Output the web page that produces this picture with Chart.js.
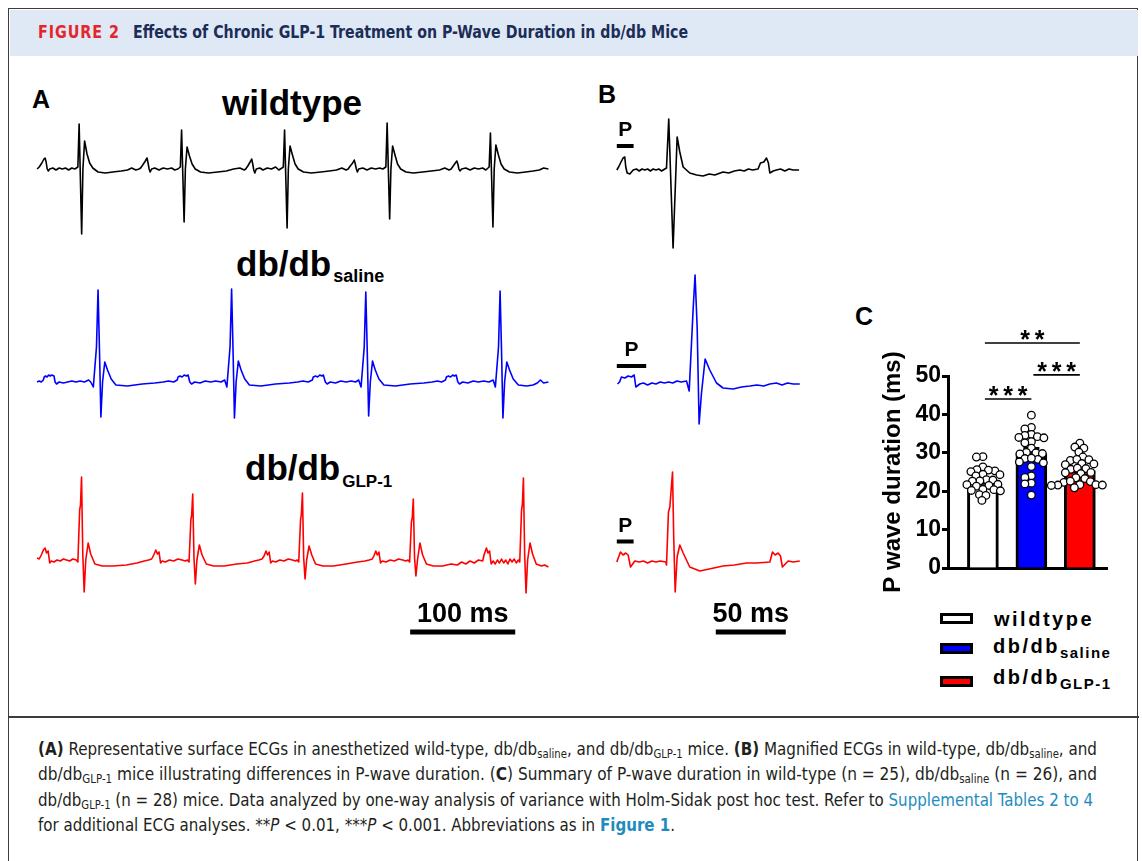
<!DOCTYPE html>
<html>
<head>
<meta charset="utf-8">
<script src="https://cdn.jsdelivr.net/npm/chart.js@4/dist/chart.umd.min.js"></script>
<style>
  body { margin: 0; background: #fff; width: 1142px; height: 861px; overflow: hidden; position: relative; }
  canvas { position: absolute; }
  #frame { position: absolute; left: 8px; top: 8px; width: 1128px; height: 870px; border: 1.5px solid #3c3c3c; }
  #band { position: absolute; left: 9.5px; top: 9.5px; width: 1128px; height: 46px; background: #dfe9f5; }
  #divider { position: absolute; left: 8px; top: 716px; width: 1131px; height: 1.5px; background: #3c3c3c; }
  .hd { position: absolute; top: 24px; font-family: "Liberation Sans Narrow", "DejaVu Sans Condensed", "Liberation Sans", sans-serif; font-weight: bold; font-size: 17px; line-height: 1; white-space: nowrap; transform-origin: left top; }
  .lbl { position: absolute; font-family: "Liberation Sans", Arial, sans-serif; font-weight: bold; line-height: 1; white-space: nowrap; color: #000; }
  .sub { position: relative; }
  .lg { letter-spacing: 2.5px; font-size: 20px; }
  .lg .sub { font-size: 15px; letter-spacing: 1.5px; top: 5px; }
  .box { position: absolute; left: 940px; width: 33px; height: 11px; box-sizing: border-box; border: 3px solid #000; }
  .cap { position: absolute; left: 38px; font-family: "Liberation Sans Narrow", "DejaVu Sans Condensed", "Liberation Sans", sans-serif; font-size: 18px; line-height: 1; color: #231f20; white-space: nowrap; transform-origin: left top; }
  .cap sub { font-size: 12px; vertical-align: -3px; line-height: 0; }
  .link { color: #1f8cc0; }
</style>
</head>
<body>
<div id="frame"></div>
<div id="band"></div>
<div id="divider"></div>
<div class="hd" id="figno" style="left:38px;color:#e3262c;letter-spacing:1px">FIGURE 2</div>
<div class="hd" id="figtitle" style="left:133px;color:#1c2d57">Effects of Chronic GLP-1 Treatment on P-Wave Duration in db/db Mice</div>

<div class="lbl" style="left:32px;top:87px;font-size:25px">A</div>
<div class="lbl" style="left:222px;top:85px;font-size:35px">wildtype</div>
<div class="lbl" style="left:236px;top:246px;font-size:35px">db/db<span class="sub" style="font-size:18px;top:6px;margin-left:2px">saline</span></div>
<div class="lbl" style="left:245px;top:450px;font-size:35px">db/db<span class="sub" style="font-size:17px;top:7px;margin-left:2px">GLP-1</span></div>
<div class="lbl" style="left:598px;top:82px;font-size:25px">B</div>
<div class="lbl" style="left:855px;top:304px;font-size:25px">C</div>

<div class="box" style="top:613px;background:#fff"></div>
<div class="box" style="top:643px;background:#0000ff"></div>
<div class="box" style="top:676px;background:#ff0000"></div>
<div class="lbl lg" style="left:994px;top:609px">wildtype</div>
<div class="lbl lg" style="left:993px;top:636px">db/db<span class="sub">saline</span></div>
<div class="lbl lg" style="left:993px;top:667px">db/db<span class="sub">GLP-1</span></div>

<canvas id="ecgWtA" width="517" height="130" style="left:35px;top:114px"></canvas>
<canvas id="ecgSalA" width="517" height="150" style="left:35px;top:282px"></canvas>
<canvas id="ecgGluA" width="517" height="170" style="left:35px;top:470px"></canvas>
<canvas id="ecgWtB" width="189" height="145" style="left:614px;top:110px"></canvas>
<canvas id="ecgSalB" width="189" height="170" style="left:614px;top:264px"></canvas>
<canvas id="ecgGluB" width="189" height="175" style="left:614px;top:462px"></canvas>
<canvas id="barC" width="255" height="284" style="left:860px;top:316px"></canvas>

<div class="cap" id="cap1" style="top:740px"><b>(A)</b> Representative surface ECGs in anesthetized wild-type, db/db<sub>saline</sub>, and db/db<sub>GLP-1</sub> mice. <b>(B)</b> Magnified ECGs in wild-type, db/db<sub>saline</sub>, and</div>
<div class="cap" id="cap2" style="top:765px">db/db<sub>GLP-1</sub> mice illustrating differences in P-wave duration. (<b>C</b>) Summary of P-wave duration in wild-type (n = 25), db/db<sub>saline</sub> (n = 26), and</div>
<div class="cap" id="cap3" style="top:791px">db/db<sub>GLP-1</sub> (n = 28) mice. Data analyzed by one-way analysis of variance with Holm-Sidak post hoc test. Refer to <span class="link">Supplemental Tables 2 to 4</span></div>
<div class="cap" id="cap4" style="top:816px">for additional ECG analyses. **<i>P</i> &lt; 0.01, ***<i>P</i> &lt; 0.001. Abbreviations as in <b class="link">Figure 1</b>.</div>

<script>
// ECG traces: [time (ms), amplitude (mV)]
const ecgWildtypeA = [
 [0,0.00],[2,0.02],[4.5,0.06],[6.5,0.10],[7.6,0.11],[8.6,0.07],[9.6,0.00],[10.6,-0.02],[12,0.00],[15,0.01],[18,-0.01],[21,0.01],[24,0.00],[27,0.01],[30,-0.01],[33,0.01],[36,0.00],[38.8,0.02],
 [40,0.45],[42.4,-0.65],[43.6,0.00],[45.2,0.28],[47.5,0.15],[50,0.06],[53,0.01],[58,-0.03],[65,-0.04],[72,-0.03],[80,-0.02],[86,-0.01],[90,0.01],[94,-0.01],[97,0.00],
 [98.5,0.01],[100.5,0.04],[103,0.08],[104.6,0.11],[105.6,0.06],[106.6,0.00],[107.6,-0.03],[109,0.00],[112,0.01],[116,-0.01],[120,0.01],[124,0.00],[128,0.01],[131,-0.01],[134,0.00],[136.3,0.02],
 [137.5,0.39],[139.9,-0.53],[141.1,0.00],[142.7,0.22],[145,0.13],[147.5,0.05],[150.5,0.00],[155.5,-0.03],[163,-0.04],[172,-0.03],[180,-0.02],[187,0.00],[193,0.01],[197,-0.01],
 [198.5,0.00],[200.5,0.03],[202.7,0.07],[204.2,0.10],[205.2,0.05],[206.2,-0.01],[207.2,-0.04],[208.6,0.00],[212,0.01],[215,-0.01],[219,0.01],[223,0.00],[227,0.02],[230,-0.01],[233,0.01],[234.3,0.02],
 [235.5,0.39],[237.9,-0.59],[239.1,0.00],[240.7,0.23],[243,0.14],[245.5,0.05],[248.5,0.00],[253.5,-0.03],[261,-0.04],[270,-0.03],[278,-0.02],[285,-0.01],[290,0.01],[294,-0.01],
 [296,0.00],[298,0.03],[300.3,0.06],[301.8,0.09],[302.8,0.05],[303.8,0.00],[304.8,-0.03],[306,0.00],[310,0.01],[314,-0.01],[318,0.01],[322,0.00],[326,0.01],[329,0.00],[331.9,0.02],
 [333.1,0.46],[335.5,-0.50],[336.7,0.00],[338.3,0.23],[340.6,0.14],[343,0.05],[346,0.00],[351,-0.03],[358,-0.04],[367,-0.03],[375,-0.02],[383,-0.01],[388,0.01],[392,-0.01],
 [394,0.00],[396,0.03],[398,0.06],[399.4,0.08],[400.4,0.05],[401.4,0.00],[402.4,-0.02],[404,0.00],[408,0.01],[412,-0.01],[416,0.01],[420,0.00],[424,0.01],[427,-0.01],[430.2,0.02],
 [431.4,0.36],[433.8,-0.58],[435,0.00],[436.6,0.24],[439,0.14],[441.5,0.05],[444.5,0.00],[449.5,-0.03],[457,-0.04],[465,-0.03],[472,-0.02],[478,-0.01],[482,0.01],[486.6,0.00]
];
const ecgSalineA = [
 [0,0.00],[2,0.01],[4,0.00],[5.9,0.02],[6.8,0.05],[8,0.06],[9.5,0.05],[11,0.07],[12.5,0.06],[14,0.07],[16.1,0.06],[17.1,0.00],[18.5,-0.02],[21,0.00],[25,-0.01],[29,0.00],[33,0.01],[37,0.00],[41,0.01],[45,0.00],[49,0.02],[51,0.00],
 [53.5,-0.05],[56.5,0.35],[58,0.92],[59.4,0.30],[60.7,-0.35],[62.3,0.00],[64.4,0.20],[67,0.12],[70.5,0.03],[75,-0.03],[86,-0.04],[100,-0.02],[112,-0.01],[120,0.00],[125,0.01],[130,0.00],
 [133.3,0.02],[134.2,0.05],[136,0.06],[138,0.05],[140,0.07],[142,0.06],[143.7,0.07],[145.3,0.00],[147,-0.02],[150,0.00],[155,-0.01],[160,0.01],[165,0.00],[170,0.01],[175,0.00],[178.5,0.02],
 [180.6,-0.05],[183.6,0.35],[185.1,0.93],[186.5,0.30],[187.8,-0.36],[189.4,0.00],[191.5,0.21],[194.1,0.12],[197.6,0.03],[202,-0.03],[213,-0.04],[227,-0.02],[240,-0.01],[248,0.00],[253,0.01],[258,0.00],
 [261.9,0.02],[262.8,0.05],[265,0.06],[267,0.05],[269,0.07],[271,0.06],[272.4,0.07],[274.3,0.00],[276,-0.02],[279,0.00],[284,-0.01],[289,0.01],[294,0.00],[299,0.01],[303,0.00],[306,0.02],
 [308.3,-0.05],[311.3,0.35],[312.8,0.90],[314.2,0.30],[315.5,-0.34],[317.1,0.00],[319.2,0.21],[321.8,0.12],[325.3,0.03],[330,-0.03],[341,-0.04],[355,-0.02],[368,-0.01],[376,0.00],[381,0.01],[385,0.00],
 [388.6,0.02],[389.5,0.05],[391.5,0.06],[393.5,0.05],[395.5,0.07],[397,0.06],[398.8,0.07],[400.4,0.00],[402,-0.02],[405,0.00],[410,-0.01],[415,0.01],[420,0.00],[425,0.01],[430,0.00],[434,0.02],
 [436.1,-0.05],[439.1,0.35],[440.6,0.91],[442,0.30],[443.3,-0.36],[444.9,0.00],[447,0.20],[449.6,0.12],[453.1,0.03],[458,-0.03],[466,-0.04],[472,-0.03],[476,-0.01],[479,0.02],[482,-0.01],[486.6,0.00]
];
const ecgGlp1A = [
 [0,0.02],[2,0.01],[4,0.05],[6,0.10],[7.6,0.12],[9,0.07],[10.5,0.09],[12,-0.03],[13.5,-0.01],[16,-0.02],[19,0.00],[22,-0.01],[25,0.01],[28,0.00],[31,-0.01],[34,0.01],[37.3,0.00],[38.8,-0.02],
 [40.5,0.50],[41.3,0.55],[42.3,0.83],[43.5,0.05],[44.8,-0.32],[46.3,0.00],[48.6,0.17],[51,0.06],[55,-0.04],[62,-0.06],[72,-0.06],[85,-0.05],[95,-0.03],[102,-0.01],[106,0.00],[109,0.01],
 [111,0.05],[113,0.10],[114.5,0.06],[116,0.08],[117.5,-0.03],[119,-0.01],[122,-0.02],[126,0.00],[130,-0.01],[134,0.01],[138,0.00],[141,-0.01],[143.1,0.00],[144.6,-0.02],
 [146.3,0.40],[147.1,0.45],[148.1,0.66],[149.3,0.02],[150.6,-0.24],[152.1,0.00],[154.4,0.15],[157,0.05],[161,-0.04],[168,-0.06],[178,-0.06],[190,-0.04],[200,-0.03],[207,-0.01],[211,0.00],[214,0.01],
 [216,0.04],[217.8,0.09],[219.3,0.05],[220.8,0.08],[222.3,-0.03],[224,-0.01],[227,-0.02],[231,0.00],[235,-0.01],[239,0.01],[243,0.00],[246,-0.01],[247.5,0.00],[249,-0.02],
 [250.7,0.40],[251.5,0.46],[252.5,0.67],[253.7,0.02],[255,-0.19],[256.5,0.00],[258.8,0.14],[261.4,0.05],[265,-0.04],[272,-0.06],[282,-0.06],[294,-0.04],[305,-0.02],[312,-0.01],[316,0.00],[319,0.01],
 [320.5,0.04],[322.3,0.09],[323.8,0.05],[325.3,0.08],[326.8,-0.03],[328.5,-0.01],[332,-0.02],[336,0.00],[340,-0.01],[344,0.01],[348,0.00],[351,-0.01],[353,0.00],[354.5,-0.02],
 [356.2,0.38],[357,0.42],[358,0.61],[359.2,0.02],[360.5,-0.16],[362,0.00],[364.3,0.17],[366.9,0.05],[370.5,-0.04],[377,-0.06],[386,-0.06],[394,-0.04],[400,-0.05],[404,-0.02],[408,-0.04],[412,-0.01],[416,-0.03],[420,0.00],[424,-0.01],
 [425.6,0.06],[427.6,0.12],[429.1,0.07],[430.6,0.09],[432.1,-0.04],[434,-0.01],[436,-0.04],[438,0.00],[440,-0.03],[442,0.01],[444,-0.03],[446,0.00],[448,-0.04],[450,0.01],[452,-0.02],[454,0.01],[456,-0.03],[458,0.00],[459.3,-0.02],
 [461,0.50],[461.8,0.55],[462.8,0.82],[464,0.05],[465.3,-0.33],[466.8,0.00],[469.1,0.17],[471.5,0.06],[475,-0.04],[480,-0.06],[483,-0.05],[486.6,-0.07]
];
const ecgWildtypeB = [
 [0,0.00],[1.3,0.03],[3,0.08],[4.5,0.12],[5.7,0.13],[6.4,0.03],[7.4,-0.03],[9.3,-0.04],[11.7,0.00],[14,0.01],[16,-0.01],[18,0.01],[20,0.00],[22,0.01],[24,-0.01],[26,0.01],[28,0.00],[30,0.01],[32,-0.01],[34.3,0.01],[35.5,0.02],
 [37.1,0.51],[40.2,-0.78],[43.1,0.33],[45,0.18],[47.4,0.03],[52.1,-0.03],[57,-0.05],[61.6,-0.06],[66,-0.04],[70,-0.05],[75.9,-0.02],[80,-0.03],[84,-0.01],[87.9,0.00],[91,-0.01],[94,0.01],[97,0.00],[100.9,0.01],
 [102.6,0.07],[105,0.08],[106.9,0.12],[108.3,0.07],[109.3,-0.03],[111.7,-0.01],[114,0.00],[117,0.01],[120,-0.01],[123,0.01],[126,0.00],[130.2,0.00]
];
const ecgSalineB = [
 [0.5,0.00],[2,0.02],[3.3,0.07],[5.7,0.06],[8.1,0.08],[10.5,0.07],[12.4,0.09],[13.6,-0.03],[16.4,0.00],[19,0.01],[22,-0.01],[25,0.01],[28,0.00],[31,0.02],[34,0.01],[37,0.02],[40,0.01],[43,0.03],[46,0.02],[49.8,0.03],
 [51.7,-0.07],[54.5,0.74],[55.9,1.09],[57.4,0.57],[58.8,-0.40],[60.5,-0.09],[63.1,0.25],[66.4,0.14],[71.2,0.01],[75.9,-0.04],[83.1,-0.05],[89,-0.03],[95,-0.02],[100,-0.01],[105,-0.02],[109.3,0.00],[114,0.01],[118,-0.01],[122,0.01],[126,0.00],[130.7,0.00]
];
const ecgGlp1B = [
 [0,0.00],[2.6,0.10],[4.5,0.07],[6.4,0.09],[8.1,0.07],[9.8,-0.05],[12.9,0.01],[16,0.00],[19,0.01],[22,-0.01],[25,0.01],[28,0.00],[31,0.01],[35,0.00],[35.5,-0.03],
 [36.9,0.50],[37.9,0.55],[39.8,0.90],[40.7,0.22],[41.7,-0.30],[43.1,0.05],[45,0.17],[47.4,0.09],[52.1,-0.05],[59.3,-0.09],[66,-0.07],[75.9,-0.04],[84,-0.03],[92.6,-0.01],[100,-0.01],[109.3,0.00],
 [111.2,0.10],[113.1,0.07],[115.2,0.09],[116.9,0.06],[118.3,-0.05],[122.4,0.01],[126,0.00],[130.7,0.01]
];
// P-wave duration markers (ms) in panel B, scale bars (ms)
const pMarkerMs = [12, 21, 12];
const scaleBarMs = [100, 50];

// Panel C
const groups = ['wildtype', 'db/db saline', 'db/db GLP-1'];
const barMeans = [22.4, 29.8, 25.4];
const barSem = [0.7, 1.3, 0.7];
const wildtypeDots = [29.0, 28.9, 26.3, 25.6, 25.3, 25.5, 25.1, 24.4, 24.0, 24.3, 23.0, 22.7, 22.9, 22.6, 21.8, 21.5, 21.7, 21.3, 20.5, 20.2, 20.4, 20.1, 19.1, 18.9, 17.6];
const salineDots = [39.8, 36.6, 36.2, 34.8, 34.5, 34.2, 33.9, 34.0, 32.9, 32.6, 31.2, 30.0, 29.8, 30.1, 29.7, 28.5, 28.3, 28.6, 27.6, 27.4, 26.4, 24.0, 23.6, 22.1, 21.9, 19.0];
const glp1Dots = [32.5, 31.5, 31.2, 30.2, 28.9, 28.2, 28.0, 28.3, 27.1, 26.9, 27.2, 25.9, 25.7, 26.0, 24.8, 24.6, 24.9, 23.5, 23.3, 22.5, 22.3, 22.6, 21.7, 21.6, 21.5, 21.7, 21.6, 20.9];
const sigPairs = [[0, 1], [1, 2], [0, 2]];
const sigStars = ['***', '***', '**'];

const FONT = '"Liberation Sans", Arial, Helvetica, sans-serif';

// draws the P marker and the time scale bar on a trace
const annotPlugin = {
  id: 'annot',
  afterDatasetsDraw(chart, args, o) {
    const ctx = chart.ctx, xs = chart.scales.x, ys = chart.scales.y;
    ctx.save();
    ctx.fillStyle = '#000';
    ctx.textAlign = 'center';
    if (o.pBar) {
      const x0 = xs.getPixelForValue(0), x1 = xs.getPixelForValue(o.pBar.ms);
      const y = ys.getPixelForValue(o.pBar.at);
      ctx.fillRect(x0, y - 2, x1 - x0, 4);
      ctx.font = 'bold 21px ' + FONT;
      ctx.fillText('P', (x0 + x1) / 2, y - 10);
    }
    if (o.scaleBar) {
      const x0 = xs.getPixelForValue(o.scaleBar.start), x1 = xs.getPixelForValue(o.scaleBar.start + o.scaleBar.ms);
      const y = chart.chartArea.bottom + o.scaleBar.dy;
      ctx.fillRect(x0, y - 2.5, x1 - x0, 5);
      ctx.font = 'bold 27px ' + FONT;
      ctx.fillText(o.scaleBar.ms + ' ms', (x0 + x1) / 2, y - 10);
    }
    ctx.restore();
  }
};

function ecgChart(id, pts, color, xr, yr, annot) {
  return new Chart(document.getElementById(id), {
    type: 'line',
    data: {
      datasets: [{
        data: pts.map(p => ({ x: p[0], y: p[1] })),
        borderColor: color,
        borderWidth: 1.6,
        borderJoinStyle: 'round',
        pointRadius: 0,
        tension: 0,
        clip: false
      }]
    },
    options: {
      responsive: false,
      animation: false,
      events: [],
      layout: { padding: { bottom: annot && annot.scaleBar ? 35 : 0 } },
      scales: {
        x: { type: 'linear', display: false, min: xr[0], max: xr[1] },
        y: { display: false, min: yr[0], max: yr[1] }
      },
      plugins: { legend: { display: false }, tooltip: { enabled: false }, annot: annot || {} }
    },
    plugins: [annotPlugin]
  });
}

const xA = [-2, 490], xB = [-2, 133];
ecgChart('ecgWtA', ecgWildtypeA, '#000000', xA, [-0.75, 0.55]);
ecgChart('ecgSalA', ecgSalineA, '#0000ff', xA, [-0.5, 1.0]);
ecgChart('ecgGluA', ecgGlp1A, '#ff0000', xA, [-0.45, 0.9], { scaleBar: { start: 355, ms: scaleBarMs[0], dy: 27 } });
ecgChart('ecgWtB', ecgWildtypeB, '#000000', xB, [-0.85, 0.6], { pBar: { ms: pMarkerMs[0], at: 0.24 } });
ecgChart('ecgSalB', ecgSalineB, '#0000ff', xB, [-0.5, 1.2], { pBar: { ms: pMarkerMs[1], at: 0.18 } });
ecgChart('ecgGluB', ecgGlp1B, '#ff0000', xB, [-0.4, 1.0], { pBar: { ms: pMarkerMs[2], at: 0.205 }, scaleBar: { start: 70.7, ms: scaleBarMs[1], dy: 30 } });

// Panel C plugins
const errPlugin = {
  id: 'errs',
  afterDatasetDraw(chart, args) {
    if (args.index !== 0) return;
    const ctx = chart.ctx, xs = chart.scales.x, ys = chart.scales.y;
    ctx.save();
    ctx.strokeStyle = '#000';
    ctx.lineWidth = 3;
    barMeans.forEach((m, i) => {
      const x = xs.getPixelForValue(i + 1);
      const y0 = ys.getPixelForValue(m), y1 = ys.getPixelForValue(m + barSem[i]);
      ctx.beginPath();
      ctx.moveTo(x, y0); ctx.lineTo(x, y1);
      ctx.moveTo(x - 8, y1); ctx.lineTo(x + 8, y1);
      ctx.stroke();
    });
    ctx.restore();
  }
};
const sigPlugin = {
  id: 'sig',
  afterDraw(chart, args, o) {
    const ctx = chart.ctx, xs = chart.scales.x, ys = chart.scales.y;
    ctx.save();
    ctx.strokeStyle = '#000';
    ctx.fillStyle = '#000';
    ctx.lineWidth = 1.6;
    ctx.font = 'bold 25px ' + FONT;
    ctx.textAlign = 'center';
    sigPairs.forEach((p, k) => {
      const x0 = xs.getPixelForValue(p[0] + 1) + 2, x1 = xs.getPixelForValue(p[1] + 1);
      const y = ys.getPixelForValue(o.levels[k]);
      ctx.beginPath(); ctx.moveTo(x0, y); ctx.lineTo(x1, y); ctx.stroke();
      const n = sigStars[k].length, cx = (x0 + x1) / 2;
      for (let j = 0; j < n; j++) ctx.fillText('*', cx + (j - (n - 1) / 2) * 14.5, y + 5);
    });
    ctx.restore();
  }
};

const dotSets = [wildtypeDots, salineDots, glp1Dots];
const barChart = new Chart(document.getElementById('barC'), {
  type: 'bar',
  data: {
    datasets: [{
      type: 'bar',
      label: 'mean',
      data: barMeans.map((m, i) => ({ x: i + 1, y: m })),
      backgroundColor: ['#ffffff', '#0000ff', '#ff0000'],
      borderColor: '#000',
      borderWidth: 3,
      barThickness: 31,
      order: 10
    }].concat(dotSets.map((vals, g) => ({
      type: 'scatter',
      label: groups[g],
      data: vals.map(v => ({ x: g + 1, y: v })),
      pointRadius: 3.8,
      pointBackgroundColor: '#fff',
      pointBorderColor: '#000',
      pointBorderWidth: 1.3,
      order: 0
    })))
  },
  options: {
    responsive: false,
    animation: false,
    events: [],
    layout: { padding: { left: 0, top: 60, right: 8, bottom: 32 } },
    scales: {
      x: {
        type: 'linear', min: 0.28, max: 3.56, offset: false,
        ticks: { display: false },
        grid: { display: true, drawOnChartArea: false, drawTicks: false },
        border: { color: '#000', width: 3 },
        afterFit: s => { s.height = 0; }
      },
      y: {
        min: 0, max: 50,
        ticks: { stepSize: 10, color: '#000', padding: 1, font: { family: FONT, size: 23, weight: 'bold' } },
        grid: { drawOnChartArea: false, tickColor: '#000', tickLength: 6, tickWidth: 3 },
        border: { color: '#000', width: 3 },
        title: { display: true, text: 'P wave duration (ms)', color: '#000', font: { family: FONT, size: 24, weight: 'bold' }, padding: { top: 19, bottom: 0 } },
        afterFit: s => { s.width = 88; }
      }
    },
    plugins: { legend: { display: false }, tooltip: { enabled: false }, sig: { levels: [44, 50.3, 58.6] } }
  },
  plugins: [errPlugin, sigPlugin]
});

// spread the dots sideways so they do not pile up (beeswarm)
function swarm(vals, pxY, d) {
  const idx = vals.map((v, i) => i).sort((a, b) => vals[b] - vals[a]);
  const placed = [], off = [];
  idx.forEach(i => {
    const y = vals[i] * pxY;
    for (let k = 0; k < 400; k++) {
      const c = (k % 2 ? -1 : 1) * Math.ceil(k / 2) * 0.5;
      if (placed.every(p => Math.hypot(p[0] - c, p[1] - y) >= d)) {
        off[i] = c; placed.push([c, y]); break;
      }
    }
  });
  return off;
}
const xs = barChart.scales.x, ys = barChart.scales.y;
const pxX = xs.getPixelForValue(2) - xs.getPixelForValue(1);
const pxY = ys.getPixelForValue(0) - ys.getPixelForValue(1);
dotSets.forEach((vals, g) => {
  const off = swarm(vals, pxY, 6.2);
  barChart.data.datasets[g + 1].data = vals.map((v, i) => ({ x: g + 1 + off[i] / pxX, y: v }));
});
barChart.update('none');

// fit header and caption lines to the widths of the original layout
function fitWidth(id, target) {
  const el = document.getElementById(id);
  const w = el.getBoundingClientRect().width;
  el.style.transform = 'scaleX(' + (target / w) + ')';
  return target / w;
}
fitWidth('figno', 82);
fitWidth('figtitle', 555);
fitWidth('cap1', 1059);
fitWidth('cap2', 1059);
const s3 = fitWidth('cap3', 1055);
document.getElementById('cap4').style.transform = 'scaleX(' + s3 + ')';
</script>
</body>
</html>
